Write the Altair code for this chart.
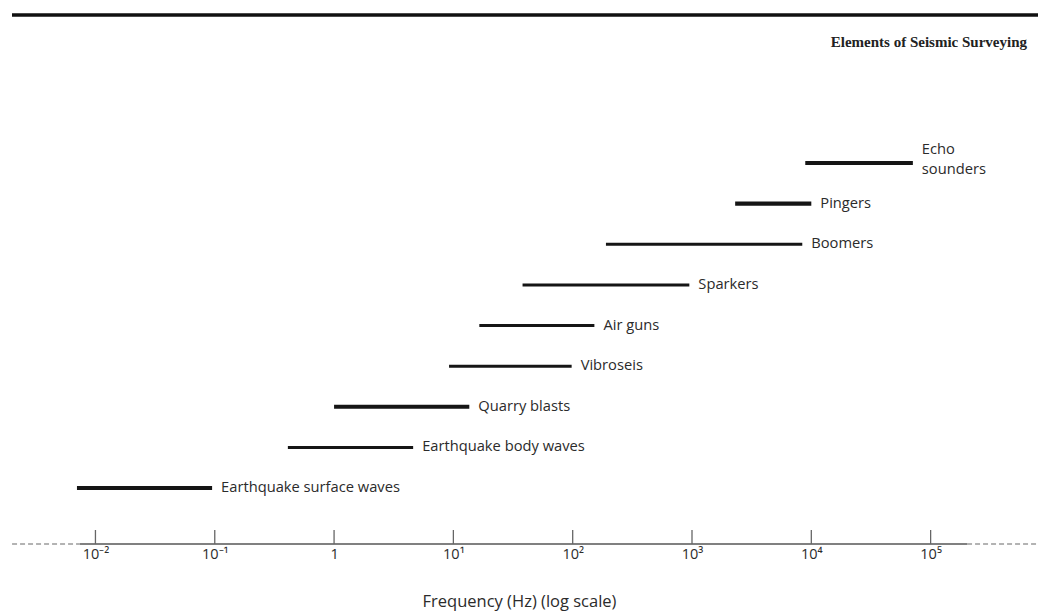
import altair as alt
import pandas as pd

# ---- data ----
names = [
    "Echo\nsounders",
    "Pingers",
    "Boomers",
    "Sparkers",
    "Air guns",
    "Vibroseis",
    "Quarry blasts",
    "Earthquake body waves",
    "Earthquake surface waves",
]
freq_lo = [8900, 2300, 190, 38, 16.5, 9.2, 1.0, 0.41, 0.0070]
freq_hi = [71000, 10000, 8400, 950, 152, 98, 13.6, 4.6, 0.095]
thick = ["Echo\nsounders", "Pingers", "Quarry blasts", "Earthquake surface waves"]

tick_values = [1e-2, 1e-1, 1, 1e1, 1e2, 1e3, 1e4, 1e5]
tick_labels = ["10⁻²", "10⁻¹", "1", "10¹", "10²", "10³", "10⁴", "10⁵"]

axis_solid = [0.0074, 202000]
axis_dash_left = [0.002, 0.0074]
axis_dash_right = [202000, 10 ** 5.9]

title_text = "Elements of Seismic Surveying"
x_title = "Frequency (Hz) (log scale)"

df = pd.DataFrame({"name": names, "lo": freq_lo, "hi": freq_hi})
ticks_df = pd.DataFrame({"v": tick_values})
solid_df = pd.DataFrame({"a": [axis_solid[0]], "b": [axis_solid[1]]})
dash_df = pd.DataFrame({"a": [axis_dash_left[0], axis_dash_right[0]],
                        "b": [axis_dash_left[1], axis_dash_right[1]]})

label_expr = "[" + ",".join("'%s'" % t for t in tick_labels) + "][round(log(datum.value)/LN10)+2]"

xscale = alt.Scale(type="log", domain=[10 ** -2.8, 10 ** 5.9], nice=False)
yenc = alt.Y("name:N", sort=names, scale=alt.Scale(type="point", range=[163, 488], padding=0), axis=None)

FONT = "Open Sans"
TXT = "#2b2b2b"

bars = alt.Chart(df).mark_rule(color="#151515", strokeCap="butt").encode(
    x=alt.X("lo:Q", scale=xscale,
            axis=alt.Axis(values=tick_values, labelExpr=label_expr, ticks=False, domain=False,
                          grid=False, labelPadding=3, labelFontSize=14.5, labelColor=TXT,
                          labelFont=FONT, labelFlush=False, labelOverlap=False,
                          title=x_title, titleFont=FONT, titleFontSize=16.5,
                          titleFontWeight="normal", titleColor=TXT, titlePadding=33)),
    x2="hi:Q",
    y=yenc,
    strokeWidth=alt.condition(alt.FieldOneOfPredicate(field="name", oneOf=thick),
                              alt.value(4.2), alt.value(3)),
)

single = "indexof(datum.name, '\\n') < 0"
multi = "indexof(datum.name, '\\n') >= 0"

label_props = dict(align="left", baseline="middle", dx=9, font=FONT, fontSize=14.7,
                   color=TXT, lineBreak="\n", lineHeight=20)

labels = alt.Chart(df).transform_filter(single).mark_text(**label_props).encode(
    x=alt.X("hi:Q", scale=xscale), y=yenc, text="name:N")

labels_multi = alt.Chart(df).transform_filter(multi).mark_text(dy=-13, **label_props).encode(
    x=alt.X("hi:Q", scale=xscale), y=yenc, text="name:N")

axis_line = alt.Chart(solid_df).mark_rule(color="#808080", strokeWidth=2).encode(
    x=alt.X("a:Q", scale=xscale), x2="b:Q", y=alt.value(544))

axis_dash = alt.Chart(dash_df).mark_rule(color="#9a9a9a", strokeWidth=1.5,
                                         strokeDash=[5, 3]).encode(
    x=alt.X("a:Q", scale=xscale), x2="b:Q", y=alt.value(544))

tick_marks = alt.Chart(ticks_df).mark_rule(color="#666", strokeWidth=1.3).encode(
    x=alt.X("v:Q", scale=xscale), y=alt.value(530), y2=alt.value(544))

top_rule = alt.Chart(pd.DataFrame({"t": [title_text]})).mark_rule(
    color="#111", strokeWidth=3.5).encode(
    x=alt.value(12), x2=alt.value(1038), y=alt.value(15))

title = alt.Chart(pd.DataFrame({"t": [title_text]})).mark_text(
    align="right", baseline="middle", font="Liberation Serif", fontSize=15,
    fontWeight="bold", color="#222").encode(
    x=alt.value(1027), y=alt.value(42), text="t:N")

chart = alt.layer(bars, labels, labels_multi, axis_dash, axis_line, tick_marks,
                  top_rule, title).properties(
    width=1038, height=544,
    autosize=alt.AutoSizeParams(type="none"),
    padding={"left": 0, "top": 0, "right": 0, "bottom": 70},
).configure(background="white").configure_view(stroke=None)

chart.save("out.html", embed_options={"renderer": "svg", "actions": False})
